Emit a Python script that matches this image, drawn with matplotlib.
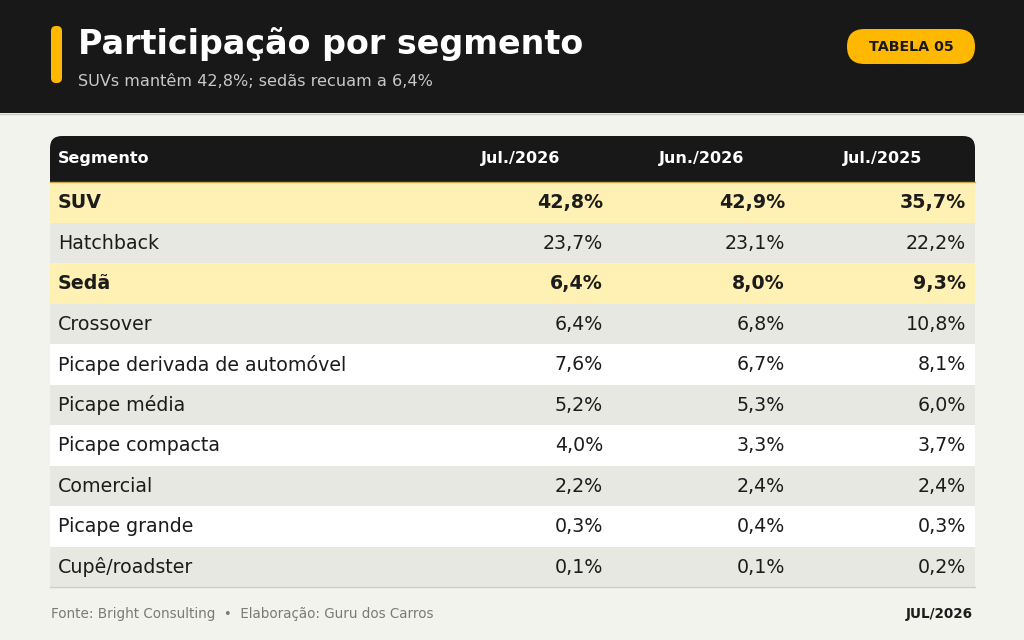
import matplotlib
matplotlib.use("Agg")
from matplotlib import pyplot as plt
from matplotlib.patches import Rectangle, FancyBboxPatch

plt.rcParams["font.family"] = ["DejaVu Sans"]

title = "Participação por segmento"
subtitle = "SUVs mantêm 42,8%; sedãs recuam a 6,4%"
badge = "TABELA 05"
source = "Fonte: Bright Consulting  •  Elaboração: Guru dos Carros"
stamp = "JUL/2026"

columns = ["Segmento", "Jul./2026", "Jun./2026", "Jul./2025"]
segments = ["SUV", "Hatchback", "Sedã", "Crossover", "Picape derivada de automóvel",
            "Picape média", "Picape compacta", "Comercial", "Picape grande", "Cupê/roadster"]
jul_2026 = [42.8, 23.7, 6.4, 6.4, 7.6, 5.2, 4.0, 2.2, 0.3, 0.1]
jun_2026 = [42.9, 23.1, 8.0, 6.8, 6.7, 5.3, 3.3, 2.4, 0.4, 0.1]
jul_2025 = [35.7, 22.2, 9.3, 10.8, 8.1, 6.0, 3.7, 2.4, 0.3, 0.2]
highlight = ["SUV", "Sedã"]

DARK = "#181818"
PAGE = "#f3f3ee"
YELLOW = "#ffb800"
HL = "#fff1b3"
GRAY = "#e8e8e2"
TXT = "#1c1c1c"


def pct(v):
    return f"{v:.1f}%".replace(".", ",")


fig = plt.figure(figsize=(10.24, 6.4), dpi=100)
fig.patch.set_facecolor(PAGE)
ax = fig.add_axes([0, 0, 1, 1])
ax.set_xlim(0, 1024)
ax.set_ylim(640, 0)
ax.axis("off")

# header band
ax.add_patch(Rectangle((0, 0), 1024, 113, fc=DARK, lw=0, zorder=1))
ax.plot([0, 1024], [113.5, 113.5], color="#c9c9c4", lw=1, zorder=2)
ax.add_patch(FancyBboxPatch((51, 26), 11, 57, boxstyle="round,pad=0,rounding_size=5",
                            fc=YELLOW, lw=0, zorder=3))
ax.text(78, 44, title, fontsize=24, fontweight="bold", color="white", va="center", zorder=3)
ax.text(78, 82, subtitle, fontsize=11.6, color="#c8c8c4", va="center", zorder=3)
ax.add_patch(FancyBboxPatch((847, 29), 128, 35, boxstyle="round,pad=0,rounding_size=17.5",
                            fc=YELLOW, lw=0, zorder=3))
ax.text(911, 47, badge, fontsize=10.3, fontweight="bold", color=DARK,
        ha="center", va="center", zorder=4)

# table
x0, x1 = 50, 975
top, head_h, row_h = 136, 46, 40.5
ax.add_patch(FancyBboxPatch((x0, top), x1 - x0, head_h, boxstyle="round,pad=0,rounding_size=12",
                            fc=DARK, lw=0, zorder=2))
ax.add_patch(Rectangle((x0, top + head_h / 2), x1 - x0, head_h / 2, fc=DARK, lw=0, zorder=2))

head_x = [58, 481, 659, 843]
for hx, name in zip(head_x, columns):
    ax.text(hx, top + head_h / 2, name, fontsize=11.5, fontweight="bold", color="white",
            va="center", zorder=3)

val_x = [603, 785, 966]
y = top + head_h
for i, seg in enumerate(segments):
    hot = seg in highlight
    bg = HL if hot else (GRAY if i % 2 == 1 else "white")
    ax.add_patch(Rectangle((x0, y), x1 - x0, row_h, fc=bg, lw=0, zorder=1))
    w = "bold" if hot else "normal"
    yc = y + row_h / 2 + 0.5
    ax.text(58, yc, seg, fontsize=13.7, fontweight=w, color=TXT, va="center", zorder=3)
    for vx, col in zip(val_x, [jul_2026, jun_2026, jul_2025]):
        ax.text(vx, yc, pct(col[i]), fontsize=13.7, fontweight=w, color=TXT,
                ha="right", va="center", zorder=3)
    y += row_h

ax.plot([x0, x1], [top + head_h, top + head_h], color="#c9a64a", lw=1, zorder=4)
ax.plot([x0, x1], [y, y], color="#cfcfca", lw=1, zorder=4)

# footer
ax.text(51, 614, source, fontsize=9.75, color="#7a7a76", va="center")
ax.text(973, 614, stamp, fontsize=9.75, fontweight="bold", color=TXT, ha="right", va="center")

fig.savefig("out.png", dpi=100, facecolor=PAGE)
